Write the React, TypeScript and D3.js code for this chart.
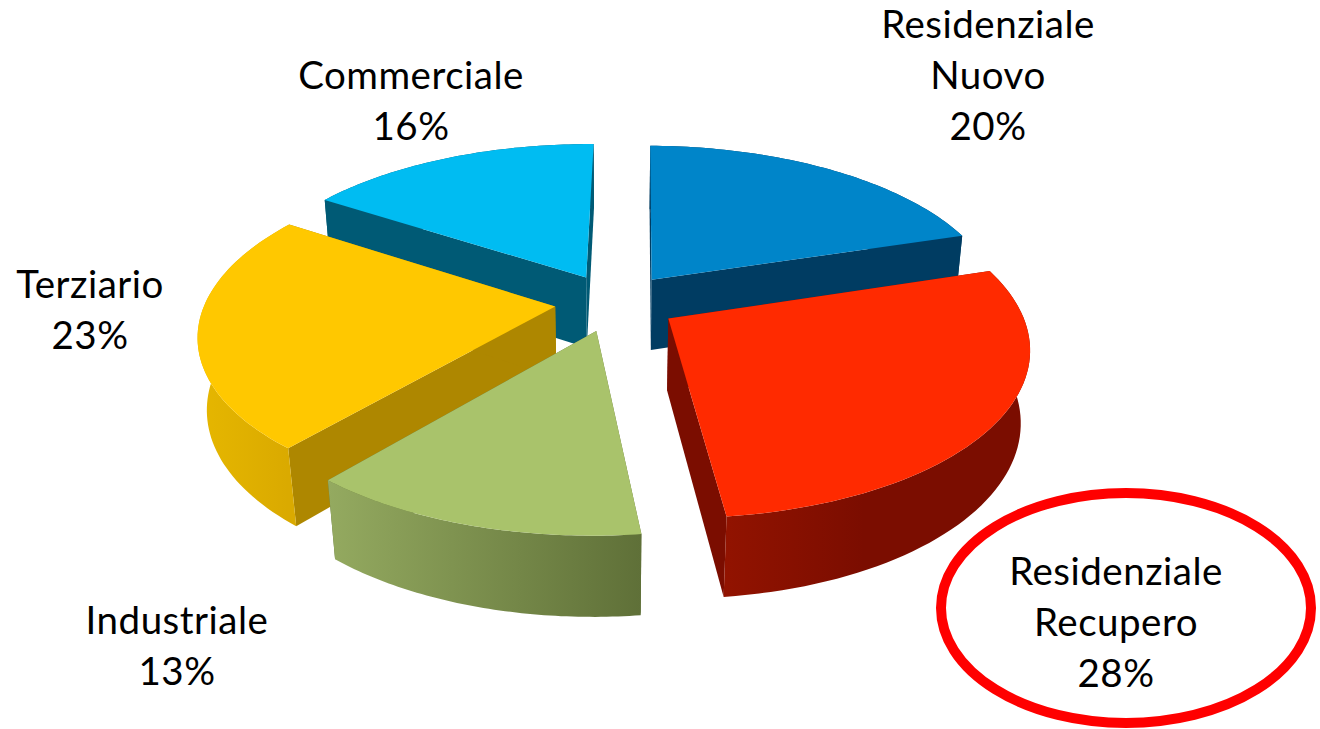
import * as d3 from "d3";

const sliceNames = ["Residenziale Nuovo", "Residenziale Recupero", "Industriale", "Terziario", "Commerciale"];
const sliceValues = [20, 28, 13, 23, 16];
const topColors = ["#0085C9", "#FF2A00", "#A9C36B", "#FFC800", "#00BCF2"];
const wallColors = ["#003C62", "#7B0D00", "#5F7038", "#AE8700", "#005A75"];
const rimStart = ["#003C62", "#921300", "#94AA60", "#E6B700", "#005A75"];
const rimEnd = ["#003C62", "#7B0D00", "#5F7038", "#DAAA00", "#005A75"];
const drawOrder = [4, 0, 3, 1, 2];
const explode = [0.179, 0.179, 0.179, 0.172, 0.179];

const labelLines = [
  ["Residenziale", "Nuovo", "20%"],
  ["Residenziale", "Recupero", "28%"],
  ["Industriale", "13%"],
  ["Terziario", "23%"],
  ["Commerciale", "16%"],
];
const labelPos = [
  [988, 38],
  [1116, 585],
  [177, 634],
  [90, 298],
  [411, 89],
];

const width = 1320;
const height = 729;
const cx = 615;
const cy = 302.5;
const radiusX = 350;
const radiusY = 162;
const depth = 73;
const rotation = 0.012;
const persp = 0.159;
const perspDepth = 0.022;

const xScale = d3.scaleLinear().domain([0, 1]).range([cx, cx + radiusX]);
const yScale = d3.scaleLinear().domain([0, 1]).range([cy, cy + radiusY]);

type P = [number, number];

// u is across, v is toward the viewer, h is 0 on the top face and 1 at the bottom
const project = (u: number, v: number, h: number): P => {
  const w = 1 / (1 - persp * v + perspDepth * h);
  return [xScale(u * w), yScale(v * w) + depth * h * w];
};

const pie = d3
  .pie<number>()
  .sort(null)
  .value((d) => d)
  .startAngle(rotation)
  .endAngle(rotation + Math.PI * 2);
const line = d3.line();

export default function App() {
  const arcs = pie(sliceValues);

  const shapes = arcs.map((a, i) => {
    const mid = (a.startAngle + a.endAngle) / 2;
    const ou = Math.sin(mid) * explode[i];
    const ov = -Math.cos(mid) * explode[i];
    const angles = d3.range(0, 61).map((k) => a.startAngle + ((a.endAngle - a.startAngle) * k) / 60);
    const rim = (h: number) => angles.map((t) => project(ou + Math.sin(t), ov - Math.cos(t), h));
    const topRim = rim(0);
    const botRim = rim(1);
    const apexTop = project(ou, ov, 0);
    const apexBot = project(ou, ov, 1);
    return {
      top: line([apexTop, ...topRim]) + "Z",
      cutA: line([apexTop, topRim[0], botRim[0], apexBot]) + "Z",
      cutB: line([apexTop, topRim[60], botRim[60], apexBot]) + "Z",
      wall: line([...topRim, ...[...botRim].reverse()]) + "Z",
      xs: d3.extent([...topRim, ...botRim], (p: P) => p[0]) as [number, number],
    };
  });

  return (
    <svg width={width} height={height} style={{ position: "absolute", left: 0, top: 0 }}>
      <defs>
        {shapes.map((s, i) => (
          <linearGradient key={i} id={`rim-${i}`} gradientUnits="userSpaceOnUse" x1={s.xs[0]} x2={i === 1 ? s.xs[0] + 140 : i === 3 ? s.xs[0] + 90 : s.xs[1]} y1={0} y2={0}>
            <stop offset="0%" stopColor={rimStart[i]} />
            <stop offset="100%" stopColor={rimEnd[i]} />
          </linearGradient>
        ))}
      </defs>

      {drawOrder.map((i) => (
        <g key={sliceNames[i]}>
          <path d={shapes[i].cutA} fill={wallColors[i]} />
          <path d={shapes[i].cutB} fill={wallColors[i]} />
          <path d={shapes[i].wall} fill={`url(#rim-${i})`} />
          <path d={shapes[i].top} fill={topColors[i]} />
        </g>
      ))}

      <ellipse cx={1126} cy={608} rx={185} ry={115} fill="none" stroke="#FF0000" strokeWidth={10} />

      <g fontFamily="Lato, 'Open Sans', sans-serif" fontSize={38.5} letterSpacing={0.5} fill="#000" textAnchor="middle">
        {labelLines.map((lines, i) => (
          <text key={i} x={labelPos[i][0]} y={labelPos[i][1]}>
            {lines.map((l, j) => (
              <tspan key={j} x={labelPos[i][0]} dy={j === 0 ? 0 : 51}>
                {l}
              </tspan>
            ))}
          </text>
        ))}
      </g>
    </svg>
  );
}
